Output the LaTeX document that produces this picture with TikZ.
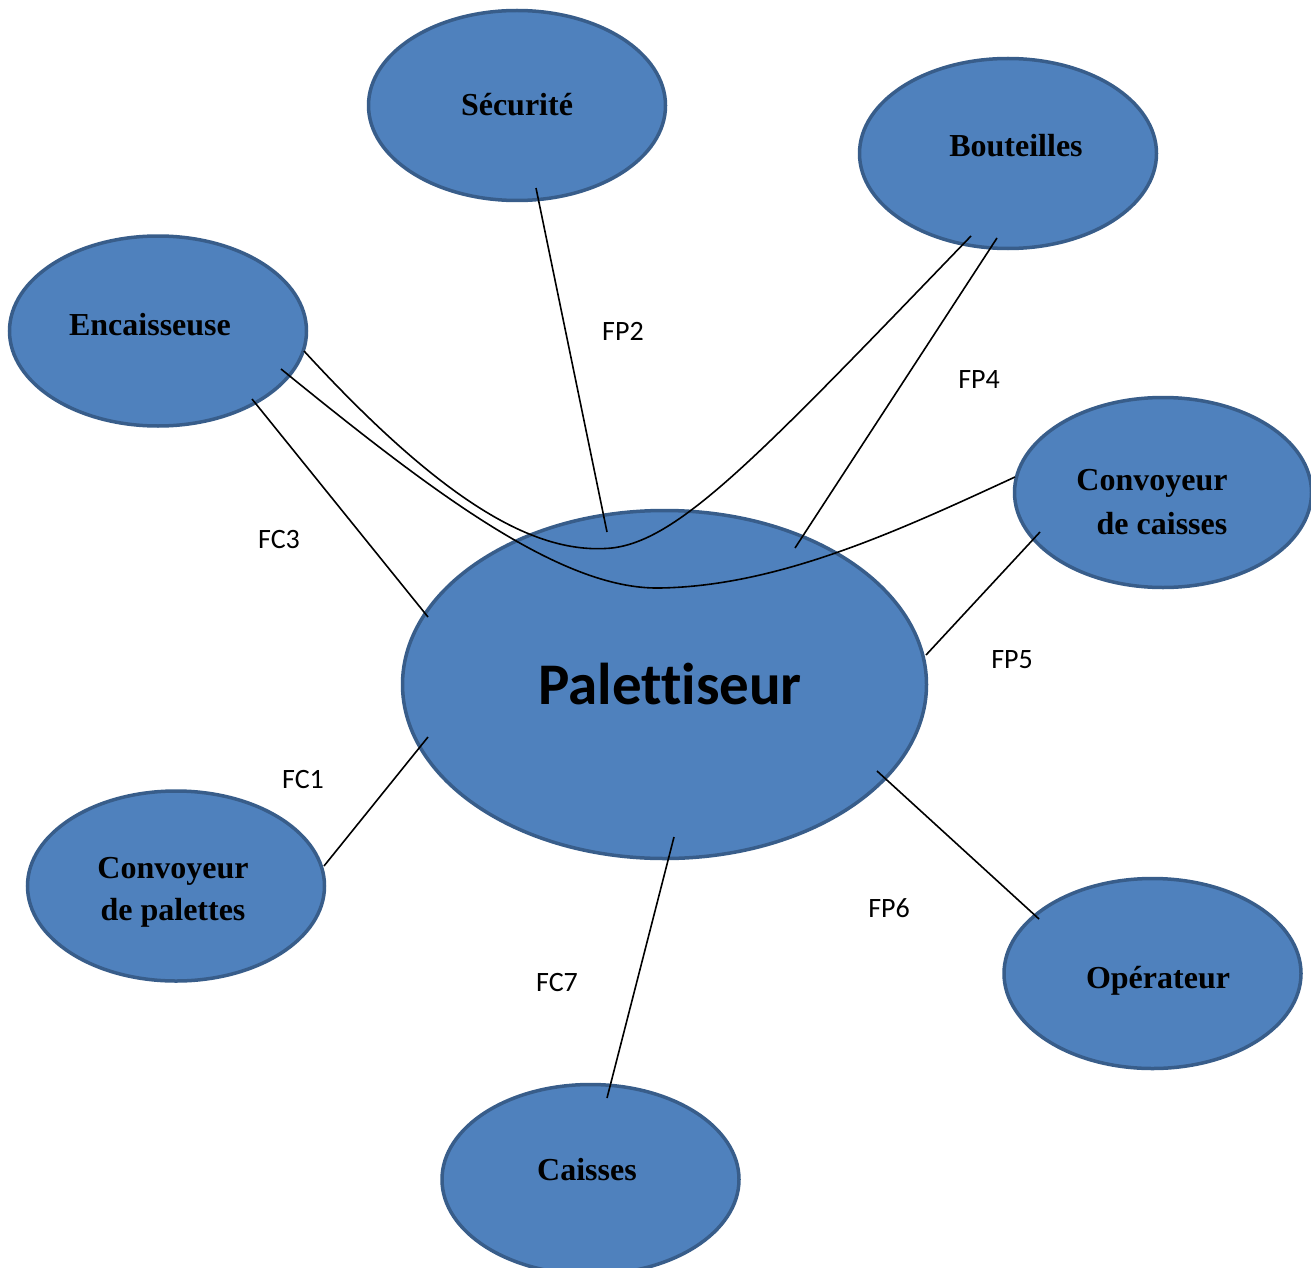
\documentclass[tikz,border=0pt]{standalone}
\usepackage{fontspec}
\setmainfont{Liberation Serif}
\newfontfamily\carlito[Ligatures=NoCommon]{Carlito}
\usetikzlibrary{shapes.geometric,calc}
\definecolor{ellfill}{HTML}{4F81BD}
\definecolor{elldraw}{HTML}{385D8A}
\begin{document}
\begin{tikzpicture}[x=1pt,y=-1pt,
  ell/.style={ellipse,draw=elldraw,fill=ellfill,line width=3.5pt,minimum width=297pt,minimum height=190pt,inner sep=0pt},
  bigell/.style={ell,minimum width=524pt,minimum height=348pt},
  ttl/.style={font=\bfseries\fontsize{32}{42}\selectfont,anchor=base,inner sep=0pt},
  bigttl/.style={font=\carlito\bfseries\fontsize{59}{70}\selectfont,anchor=base,inner sep=0pt},
  lbl/.style={font=\carlito\fontsize{28}{32}\selectfont,anchor=base,inner sep=0pt},
  conn/.style={line width=1.6pt,black}]
\useasboundingbox (0,0) rectangle (1311,1268);

% ellipses
\node[ell] (secu) at (517,105.5) {};
\node[ell] (bout) at (1008,153.5) {};
\node[ell] (enc) at (158,331) {};
\node[ell] (cc) at (1163,492.5) {};
\node[bigell] (pal) at (664.5,684.5) {};
\node[ell] (cp) at (176,886) {};
\node[ell] (op) at (1152.5,973.5) {};
\node[ell] (cai) at (590.5,1179.5) {};

% connectors
\draw[conn] ($(secu)+(19,82.5)$) -- ($(pal)+(-57.5,-152.5)$);
\draw[conn] ($(bout)+(-11,84.5)$) -- ($(pal)+(130.5,-136.5)$);
\draw[conn] ($(enc)+(94,68)$) -- ($(pal)+(-236.5,-67.5)$);
\draw[conn] ($(cc)+(-123,39.5)$) -- ($(pal)+(261.5,-29.5)$);
\draw[conn] ($(pal)+(-236.5,52.5)$) -- ($(cp)+(148,-20)$);
\draw[conn] ($(pal)+(212.5,86.5)$) -- ($(op)+(-113.5,-54.5)$);
\draw[conn] ($(pal)+(9.5,152.5)$) -- ($(cai)+(16.5,-81.5)$);
\draw[conn] ($(enc)+(146,20)$) .. controls (450,510) and (540,555) .. (612,548)
  .. controls (680,540) and (760,455) .. ($(bout)+(-37,82.5)$);
\draw[conn] ($(enc)+(123,38)$) .. controls (430,490) and (560,590) .. (660,588)
  .. controls (780,586) and (900,530) .. ($(cc)+(-148,-15.5)$);

% titles
\node[ttl] (tsecu) at (517,116) {Sécurité};
\node[ttl] (tbout) at (1016,157) {Bouteilles};
\node[ttl] (tenc) at (150,335) {Encaisseuse};
\node[ttl] (tcc1) at (1152,490) {Convoyeur};
\node[ttl] (tcc2) at (1162,534) {de caisses};
\node[bigttl] (tpal) at (670,704) {Palettiseur};
\node[ttl] (tcp1) at (173,878) {Convoyeur};
\node[ttl] (tcp2) at (173,920) {de palettes};
\node[ttl] (top) at (1158,988) {Opérateur};
\node[ttl] (tcai) at (587,1180) {Caisses};

% labels
\node[lbl] (fp2) at (623,340) {FP2};
\node[lbl] (fp4) at (979,388) {FP4};
\node[lbl] (fc3) at (279,548) {FC3};
\node[lbl] (fp5) at (1012,668) {FP5};
\node[lbl] (fc1) at (303,788) {FC1};
\node[lbl] (fp6) at (889,917) {FP6};
\node[lbl] (fc7) at (557,991) {FC7};
\end{tikzpicture}
\end{document}
